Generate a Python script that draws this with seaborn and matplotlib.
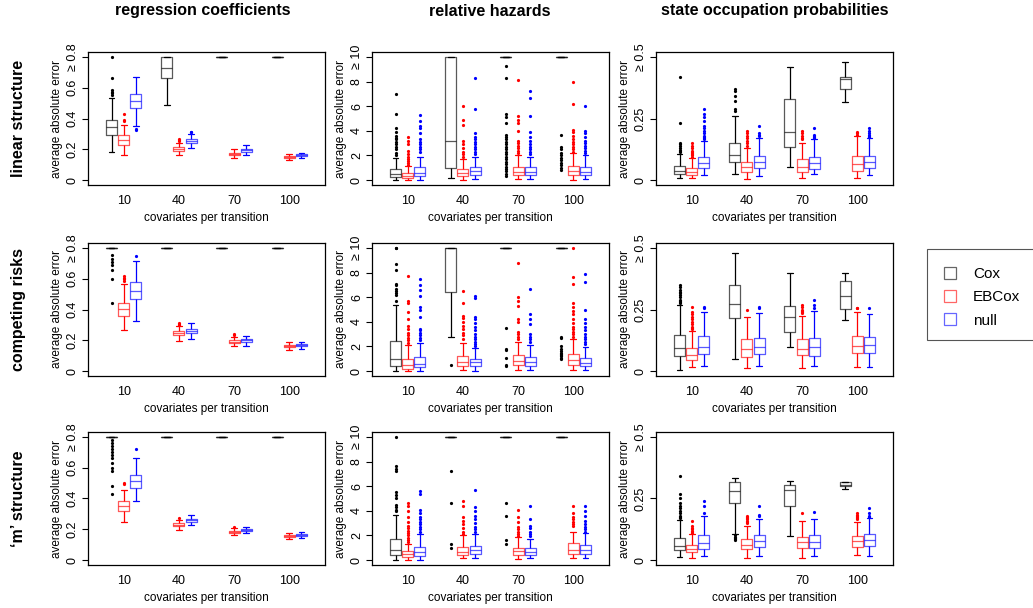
import numpy as np
import pandas as pd
import matplotlib
matplotlib.use("Agg")
import matplotlib.pyplot as plt
from matplotlib.lines import Line2D
from matplotlib.patches import Rectangle
import seaborn as sns

structures = ["linear structure", "competing risks", "\u2018m\u2019 structure"]
measures = ["regression coefficients", "relative hazards", "state occupation probabilities"]
methods = ["Cox", "EBCox", "null"]
covariates = ["10", "40", "70", "100"]
colors = {"Cox": "black", "EBCox": "red", "null": "blue"}

yticks = [[0, 0.2, 0.4, 0.6, 0.8], [0, 2, 4, 6, 8, 10], [0, 0.25, 0.5]]
ytick_labels = [["0", "0.2", "0.4", "0.6", "\u2265 0.8"],
                ["0", "2", "4", "6", "8", "\u2265 10"],
                ["0", "0.25", "\u2265 0.5"]]

# each box: (lower whisker, q1, median, q3, upper whisker), one per covariate group
# errors above the cap are shown at the cap (0.8 / 10 / 0.5)
coef_linear = {
    "Cox": [(0.18, 0.29, 0.345, 0.39, 0.535), (0.49, 0.66, 0.73, 0.8, 0.8), (0.8,) * 5, (0.8,) * 5],
    "EBCox": [(0.16, 0.23, 0.26, 0.29, 0.36), (0.165, 0.19, 0.203, 0.215, 0.24),
              (0.145, 0.16, 0.17, 0.178, 0.2), (0.13, 0.142, 0.15, 0.158, 0.17)],
    "null": [(0.35, 0.468, 0.513, 0.556, 0.67), (0.21, 0.244, 0.257, 0.27, 0.3),
             (0.165, 0.185, 0.195, 0.205, 0.225), (0.145, 0.155, 0.163, 0.17, 0.178)],
}
coef_linear_out = {
    "Cox": [[0.555, 0.565, 0.575, 0.585, 0.66, 0.8], [], [], []],
    "EBCox": [[0.385, 0.39, 0.43], [0.255, 0.262, 0.27], [], []],
    "null": [[0.325, 0.333], [0.31, 0.315], [], []],
}

haz_linear = {
    "Cox": [(0.0, 0.24, 0.46, 0.87, 1.8), (0.16, 1.0, 3.17, 10, 10), (10,) * 5, (10,) * 5],
    "EBCox": [(0.0, 0.14, 0.33, 0.56, 1.18), (0.03, 0.3, 0.6, 0.9, 1.75),
              (0.05, 0.38, 0.65, 1.06, 2.05), (0.02, 0.4, 0.7, 1.14, 2.2)],
    "null": [(0.0, 0.33, 0.6, 1.08, 1.9), (0.1, 0.4, 0.73, 1.08, 1.9),
             (0.05, 0.38, 0.68, 1.03, 1.85), (0.05, 0.38, 0.68, 1.08, 2.0)],
}
haz_linear_out = {
    "Cox": [[2.0, 2.2, 2.5, 2.7, 2.9, 3.1, 3.3, 3.4, 3.6, 3.9, 4.2, 5.4, 7.0], [],
            [0.3, 0.5, 0.7, 0.9, 1.1, 1.3, 1.5, 1.7, 1.9, 2.1, 2.3, 2.5, 2.7, 2.9, 3.1, 3.3,
             3.5, 3.7, 4.6, 5.1, 5.4, 8.3, 9.3],
            [0.8, 1.0, 1.2, 1.4, 1.6, 1.8, 2.0, 2.2, 2.5, 2.7, 3.7]],
    "EBCox": [[1.25, 1.4, 1.55, 1.7, 1.9, 2.1, 2.4, 2.9, 3.2, 3.5],
              [1.9, 2.1, 2.3, 2.6, 2.9, 3.2, 4.5, 4.9, 6.0],
              [2.2, 2.4, 2.6, 2.8, 3.0, 3.2, 4.0, 4.6, 4.9, 5.2, 8.1],
              [2.3, 2.5, 2.7, 2.9, 3.1, 3.3, 3.6, 3.9, 4.1, 6.2, 8.0]],
    "null": [[2.3, 2.5, 2.7, 2.9, 3.1, 3.3, 3.8, 4.2, 4.4, 4.8, 5.3],
             [2.15, 2.3, 2.5, 2.7, 2.9, 3.1, 3.3, 3.5, 3.8, 5.75, 8.3],
             [2.1, 2.3, 2.5, 2.7, 2.9, 3.2, 3.5, 3.9, 5.2, 6.7, 7.2],
             [2.2, 2.4, 2.6, 2.8, 3.0, 3.2, 3.5, 3.8, 4.0, 6.0]],
}

occ_linear = {
    "Cox": [(0.008, 0.023, 0.038, 0.058, 0.105), (0.024, 0.072, 0.101, 0.149, 0.26),
            (0.055, 0.135, 0.197, 0.331, 0.459), (0.315, 0.369, 0.41, 0.419, 0.48)],
    "EBCox": [(0.008, 0.022, 0.034, 0.05, 0.09), (0.005, 0.031, 0.054, 0.072, 0.13),
              (0.01, 0.034, 0.055, 0.085, 0.15), (0.01, 0.038, 0.065, 0.096, 0.18)],
    "null": [(0.02, 0.047, 0.068, 0.092, 0.158), (0.018, 0.047, 0.072, 0.099, 0.17),
             (0.023, 0.046, 0.068, 0.095, 0.165), (0.02, 0.051, 0.074, 0.099, 0.17)],
}
occ_linear_out = {
    "Cox": [[0.112, 0.118, 0.124, 0.13, 0.138, 0.145, 0.15, 0.23, 0.42],
            [0.28, 0.29, 0.32, 0.34, 0.36, 0.37], [], []],
    "EBCox": [[0.095, 0.1, 0.105, 0.11, 0.115, 0.12, 0.13, 0.14, 0.15],
              [0.14, 0.15, 0.16, 0.17, 0.18, 0.19, 0.2],
              [0.165, 0.17, 0.18, 0.19, 0.2], [0.185, 0.19, 0.195]],
    "null": [[0.165, 0.17, 0.175, 0.18, 0.19, 0.2, 0.21, 0.22, 0.24, 0.255, 0.27, 0.29],
             [0.18, 0.185, 0.19, 0.22], [0.17, 0.175, 0.18, 0.185, 0.21],
             [0.175, 0.18, 0.185, 0.19, 0.2, 0.21]],
}

coef_comp = {
    "Cox": [(0.8,) * 5, (0.8,) * 5, (0.8,) * 5, (0.8,) * 5],
    "EBCox": [(0.265, 0.355, 0.404, 0.445, 0.566), (0.195, 0.232, 0.245, 0.258, 0.29),
              (0.16, 0.18, 0.19, 0.2, 0.22), (0.14, 0.155, 0.163, 0.172, 0.19)],
    "null": [(0.325, 0.467, 0.523, 0.576, 0.716), (0.21, 0.247, 0.262, 0.275, 0.31),
             (0.165, 0.19, 0.2, 0.21, 0.23), (0.145, 0.16, 0.167, 0.175, 0.19)],
}
coef_comp_out = {
    "Cox": [[0.44, 0.6, 0.655, 0.69, 0.71, 0.73, 0.755], [], [], []],
    "EBCox": [[0.585, 0.595, 0.605, 0.62], [0.3, 0.305, 0.31], [0.232, 0.24], []],
    "null": [[0.745], [], [], []],
}

haz_comp = {
    "Cox": [(0.0, 0.43, 0.97, 2.42, 5.35), (2.78, 6.41, 10, 10, 10), (10,) * 5, (10,) * 5],
    "EBCox": [(0.0, 0.16, 0.51, 0.97, 2.1), (0.1, 0.43, 0.75, 1.24, 2.25),
              (0.1, 0.49, 0.84, 1.29, 2.35), (0.05, 0.51, 0.89, 1.37, 2.6)],
    "null": [(0.0, 0.3, 0.57, 1.16, 2.25), (0.0, 0.38, 0.7, 1.02, 1.9),
             (0.1, 0.4, 0.7, 1.16, 2.1), (0.05, 0.4, 0.65, 1.1, 1.95)],
}
haz_comp_out = {
    "Cox": [[5.7, 6.2, 6.3, 6.5, 6.7, 7.0, 7.1, 8.2, 8.7, 10, 10], [0.5],
            [0.4, 0.5, 1.1, 1.7, 1.8, 3.5],
            [1.0, 1.1, 1.2, 1.3, 1.4, 1.5, 1.6, 1.8, 2.0, 2.7, 2.8]],
    "EBCox": [[2.3, 2.5, 2.7, 2.9, 3.1, 3.4, 3.7, 4.2, 4.8, 5.5, 5.7, 7.7],
              [2.6, 2.9, 3.1, 3.4, 3.7, 4.0, 4.3, 4.5, 5.5, 6.5],
              [2.6, 2.8, 3.0, 3.2, 4.0, 4.2, 5.3, 5.7, 6.0, 8.8],
              [2.8, 3.0, 3.2, 3.4, 3.6, 3.9, 4.2, 4.6, 4.9, 5.2, 5.5, 7.1, 7.6, 10]],
    "null": [[2.5, 2.7, 2.9, 3.1, 3.3, 3.4, 4.4, 5.0, 5.2, 6.1, 6.6, 7.0, 7.5],
             [2.0, 2.2, 2.4, 2.6, 2.8, 3.0, 3.3, 3.6, 3.9, 4.2, 4.4, 5.9, 6.1],
             [2.35, 2.6, 2.8, 3.0, 3.8, 4.2, 4.6, 6.7],
             [2.2, 2.4, 2.6, 2.8, 3.0, 3.3, 3.6, 3.9, 4.2, 5.0, 7.2, 7.85]],
}

occ_comp = {
    "Cox": [(0.005, 0.062, 0.092, 0.146, 0.268), (0.051, 0.214, 0.273, 0.349, 0.481),
            (0.096, 0.159, 0.22, 0.264, 0.397), (0.208, 0.251, 0.305, 0.366, 0.4)],
    "EBCox": [(0.018, 0.045, 0.065, 0.093, 0.163), (0.014, 0.059, 0.089, 0.132, 0.218),
              (0.014, 0.066, 0.09, 0.132, 0.225), (0.015, 0.072, 0.101, 0.143, 0.24)],
    "null": [(0.022, 0.069, 0.099, 0.143, 0.238), (0.02, 0.069, 0.099, 0.136, 0.235),
             (0.02, 0.062, 0.099, 0.136, 0.245), (0.015, 0.074, 0.104, 0.14, 0.233)],
}
occ_comp_out = {
    "Cox": [[0.275, 0.28, 0.285, 0.29, 0.3, 0.31, 0.315, 0.32, 0.33, 0.34, 0.35], [], [], []],
    "EBCox": [[0.17, 0.175, 0.18, 0.19, 0.2, 0.21, 0.22, 0.23, 0.24, 0.26], [0.25],
              [0.235, 0.24, 0.245, 0.25, 0.26, 0.27], [0.255, 0.258]],
    "null": [[0.256, 0.262], [0.255, 0.26], [0.255, 0.27, 0.29], [0.255]],
}

coef_m = {
    "Cox": [(0.8,) * 5, (0.8,) * 5, (0.8,) * 5, (0.8,) * 5],
    "EBCox": [(0.247, 0.318, 0.353, 0.387, 0.456), (0.195, 0.22, 0.23, 0.24, 0.26),
              (0.16, 0.175, 0.183, 0.19, 0.21), (0.14, 0.15, 0.156, 0.162, 0.175)],
    "null": [(0.387, 0.469, 0.512, 0.553, 0.66), (0.225, 0.25, 0.26, 0.27, 0.295),
             (0.177, 0.19, 0.195, 0.2, 0.213), (0.145, 0.158, 0.164, 0.17, 0.18)],
}
coef_m_out = {
    "Cox": [[0.43, 0.48, 0.58, 0.6, 0.63, 0.66, 0.68, 0.7, 0.72, 0.74, 0.76, 0.78], [], [], []],
    "EBCox": [[0.495, 0.5], [0.272], [0.215], []],
    "null": [[0.72], [], [], []],
}

haz_m = {
    "Cox": [(0.0, 0.38, 0.84, 1.73, 3.62), (10,) * 5, (10,) * 5, (10,) * 5],
    "EBCox": [(0.0, 0.24, 0.46, 0.7, 1.3), (0.15, 0.4, 0.68, 1.05, 2.0),
              (0.1, 0.4, 0.73, 1.0, 1.85), (0.15, 0.49, 0.84, 1.38, 2.3)],
    "null": [(0.0, 0.32, 0.65, 1.1, 2.15), (0.2, 0.46, 0.78, 1.16, 2.15),
             (0.15, 0.4, 0.68, 1.0, 1.7), (0.2, 0.51, 0.78, 1.19, 2.2)],
}
haz_m_out = {
    "Cox": [[4.0, 4.1, 4.3, 4.5, 5.0, 5.3, 5.5, 7.2, 7.4, 7.6, 10],
            [0.95, 1.3, 4.6, 7.25], [1.3, 1.6, 3.6, 4.6], []],
    "EBCox": [[1.45, 1.6, 1.8, 2.0, 2.2, 2.4, 2.6, 2.8, 3.1, 3.5, 4.0, 4.4, 4.6],
              [2.1, 2.3, 2.6, 2.9, 3.2, 3.5, 4.4, 4.8],
              [1.95, 2.1, 2.3, 2.5, 2.7, 3.1, 3.5, 4.1],
              [2.75, 2.9, 3.1, 3.3, 3.5, 3.8, 4.4]],
    "null": [[2.3, 2.5, 2.7, 2.9, 3.1, 3.3, 3.5, 3.8, 4.1, 5.4, 5.6],
             [2.3, 2.5, 2.7, 3.0, 3.3, 3.6, 4.0, 4.3, 5.7],
             [1.95, 2.1, 2.3, 2.6, 2.8, 3.3, 4.4],
             [2.3, 2.5, 2.7, 2.9, 3.2, 3.6, 4.0, 4.4]],
}

occ_m = {
    "Cox": [(0.011, 0.041, 0.057, 0.091, 0.164), (0.105, 0.23, 0.281, 0.315, 0.332),
            (0.099, 0.22, 0.285, 0.305, 0.322), (0.288, 0.299, 0.305, 0.316, 0.319)],
    "EBCox": [(0.01, 0.031, 0.045, 0.061, 0.105), (0.01, 0.043, 0.062, 0.085, 0.14),
              (0.01, 0.049, 0.072, 0.095, 0.16), (0.02, 0.055, 0.078, 0.099, 0.155)],
    "null": [(0.018, 0.045, 0.069, 0.101, 0.18), (0.018, 0.054, 0.078, 0.103, 0.165),
             (0.018, 0.051, 0.074, 0.101, 0.165), (0.018, 0.059, 0.081, 0.105, 0.17)],
}
occ_m_out = {
    "Cox": [[0.17, 0.175, 0.18, 0.19, 0.2, 0.21, 0.22, 0.23, 0.25, 0.27, 0.34],
            [0.08, 0.085, 0.09, 0.095, 0.1], [], []],
    "EBCox": [[0.11, 0.115, 0.12, 0.125, 0.13, 0.14, 0.16],
              [0.15, 0.155, 0.16, 0.165, 0.17, 0.175, 0.18], [0.19],
              [0.167, 0.17, 0.175, 0.18, 0.185, 0.19]],
    "null": [[0.19, 0.22, 0.24], [0.18, 0.185, 0.22], [0.195], [0.175, 0.18, 0.19, 0.21]],
}

panels = [[(coef_linear, coef_linear_out), (haz_linear, haz_linear_out), (occ_linear, occ_linear_out)],
          [(coef_comp, coef_comp_out), (haz_comp, haz_comp_out), (occ_comp, occ_comp_out)],
          [(coef_m, coef_m_out), (haz_m, haz_m_out), (occ_m, occ_m_out)]]


def panel_frame(boxes, outs, n=100):
    # rebuild a sample whose quartiles / whiskers / outliers match the read-off stats
    rows = []
    for m in methods:
        for cov, st, ol in zip(covariates, boxes[m], outs[m]):
            lo, q1, med, q3, hi = st
            vals = [lo] + [q1] * n + [med] * n + [q3] * n + [hi] + list(ol)
            rows += [(cov, m, v) for v in vals]
    return pd.DataFrame(rows, columns=["cov", "method", "err"])


sns.set_theme(style="ticks")
plt.rcParams["font.family"] = ["Liberation Sans", "DejaVu Sans"]
plt.rcParams["axes.edgecolor"] = "black"
plt.rcParams["text.color"] = "black"
plt.rcParams["axes.labelcolor"] = "black"
plt.rcParams["xtick.color"] = "black"
plt.rcParams["ytick.color"] = "black"

W, H = 1033, 608
fig = plt.figure(figsize=(W / 100, H / 100), dpi=100)

col_left = [88, 372, 656]
row_top = [52, 243, 432]
ax_w, ax_h = 237, 133
ylims = [(-0.032, 0.832), (-0.4, 10.4), (-0.02, 0.52)]

for r in range(3):
    for c in range(3):
        ax = fig.add_axes([col_left[c] / W, 1 - (row_top[r] + ax_h) / H, ax_w / W, ax_h / H])
        boxes, outs = panels[r][c]
        df = panel_frame(boxes, outs)
        sns.boxplot(data=df, x="cov", y="err", hue="method", order=covariates,
                    hue_order=methods, palette=colors, fill=False, width=0.66, gap=0.1,
                    linewidth=0.9, legend=False, ax=ax)
        for cont in ax.containers:
            for ln in list(getattr(cont, "boxes", [])) + list(getattr(cont, "medians", [])):
                ln.set_alpha(0.65)
            for ln in getattr(cont, "fliers", []):
                col = ln.get_markeredgecolor()
                ln.set_marker("o")
                ln.set_markersize(2.3)
                ln.set_markerfacecolor(col)
                ln.set_markeredgewidth(0)
        ax.set_xlim(-0.65, 3.65)
        ax.set_ylim(*ylims[c])
        ax.set_yticks(yticks[c])
        ax.set_yticklabels(ytick_labels[c], rotation=90, va="center")
        ax.tick_params(axis="y", length=4.5, width=0.8, pad=2, labelsize=9)
        ax.tick_params(axis="x", length=0, pad=7, labelsize=9)
        ax.set_xlabel("covariates per transition", fontsize=8.5, labelpad=4)
        ax.set_ylabel("average absolute error", fontsize=8.5, labelpad=3)
        for sp in ax.spines.values():
            sp.set_visible(True)
            sp.set_linewidth(0.9)

title_x = [203, 490, 775]
for c, t in enumerate(measures):
    fig.text(title_x[c] / W, 1 - 11 / H, t, ha="center", va="center",
             fontsize=11.5, fontweight="bold")
for r, t in enumerate(structures):
    fig.text(19 / W, 1 - (row_top[r] + ax_h / 2) / H, t, rotation=90, ha="center",
             va="center", fontsize=11.5, fontweight="bold")

# legend box (runs off the right edge like the original)
fig.patches.append(Rectangle((927 / W, 1 - 340 / H), 115 / W, 91 / H, transform=fig.transFigure,
                             facecolor="white", edgecolor="#555555", linewidth=0.8))
handles = [Line2D([], [], linestyle="none", marker="s", markersize=9,
                  markerfacecolor="white", markeredgecolor=colors[m], alpha=0.6,
                  markeredgewidth=0.9) for m in methods]
fig.legend(handles, methods, loc="upper left", bbox_to_anchor=(927 / W, 1 - 252 / H),
           borderaxespad=0, fontsize=11, handlelength=1.0, handletextpad=1.0,
           borderpad=1.0, labelspacing=0.6, frameon=False)

fig.savefig("out.png", dpi=100)
